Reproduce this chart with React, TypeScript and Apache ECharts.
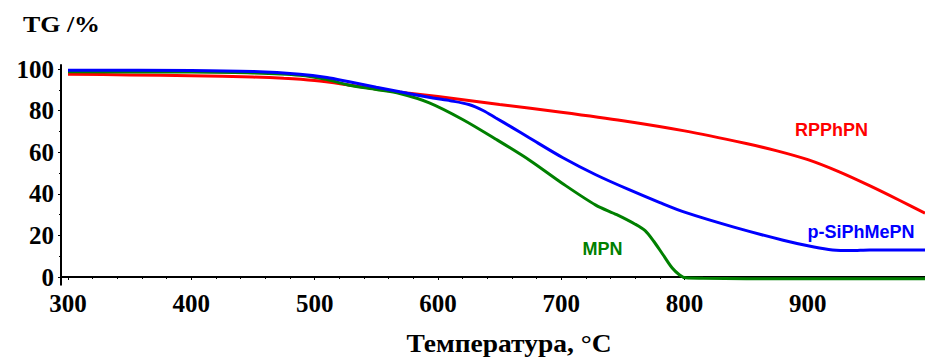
import React, { useEffect, useRef } from "react";
import * as echarts from "echarts";

const redT = [300, 350, 400, 450, 475, 500, 525, 550, 575, 600, 650, 700, 750, 800, 850, 875, 900, 925, 950, 975, 995];
const redV = [97.6, 97.2, 96.8, 96.2, 95.6, 94.5, 92.6, 90.4, 88.5, 86.8, 83.05, 79.3, 75.2, 70.3, 64.2, 60.7, 56.45, 50.7, 43.95, 36.7, 30.7];

const blueT = [300, 400, 450, 488, 510, 528, 550, 569, 596, 610, 625, 637, 647, 660, 674, 701, 728, 755, 780, 800, 840, 880, 905, 920, 935, 950, 995];
const blueV = [99.5, 99.4, 98.9, 97.6, 96, 93.9, 91.3, 89.1, 86.1, 84.8, 83, 80, 76.5, 72, 67, 57.5, 49.2, 42, 35.8, 31.2, 24, 17.7, 14.4, 13, 12.7, 13, 13];

const greenT = [300, 400, 450, 488, 510, 528, 550, 569, 593, 620, 647, 674, 701, 728, 745, 760, 768, 775, 782, 790, 796, 801, 815, 850, 995];
const greenV = [98.7, 98.6, 98.2, 97.1, 95, 92.3, 90.2, 88.3, 83.8, 75.8, 66.3, 56.3, 45, 34.6, 30.0, 25.4, 22.3, 17.2, 11.2, 4.3, 1, -0.4, -0.6, -0.8, -0.8];

const xMajor = [300, 400, 500, 600, 700, 800, 900];
const xMinor = [320, 340, 360, 380, 420, 440, 460, 480, 520, 540, 560, 580, 620, 640, 660, 680, 720, 740, 760, 780, 820, 840, 860, 880, 920, 940, 960, 980];
const yMajor = [0, 20, 40, 60, 80, 100];
const yMinor = [10, 30, 50, 70, 90];

const pairs = (t: number[], v: number[]) => t.map((x, i) => [x, v[i]]);

const serifFont = '"Liberation Serif", "Times New Roman", serif';
const sansFont = '"Liberation Sans", Arial, sans-serif';

export default function App() {
  const ref = useRef<HTMLDivElement>(null);
  useEffect(() => {
    if (!ref.current) return;
    const chart = echarts.init(ref.current, null, { renderer: "svg" });
    const xBase = { type: "value", min: 294.3, max: 995, splitLine: { show: false } };
    const yBase = { type: "value", min: -3.7, max: 102, splitLine: { show: false } };
    const lineSeries = (name: string, data: number[][], color: string) => ({
      name,
      type: "line",
      data,
      smooth: 0.3,
      showSymbol: false,
      lineStyle: { color, width: 3 },
      z: 3,
    });
    const labelStyle = {
      show: true,
      color: "#000",
      fontFamily: serifFont,
      fontWeight: "bold",
      fontSize: 25,
    };
    chart.setOption({
      animation: false,
      grid: { left: 61, right: 0, top: 65, bottom: 76.3, containLabel: false },
      xAxis: [
        {
          ...xBase,
          axisLine: { show: true, lineStyle: { color: "#000", width: 2 } },
          axisTick: { show: true, customValues: xMajor, length: 3, lineStyle: { color: "#000", width: 1 } },
          axisLabel: { ...labelStyle, customValues: xMajor, margin: 6 },
        },
        {
          ...xBase,
          position: "bottom",
          axisLine: { show: false },
          axisTick: { show: true, customValues: xMinor, length: 2, lineStyle: { color: "#000", width: 1 } },
          axisLabel: { show: false },
        },
      ],
      yAxis: [
        {
          ...yBase,
          axisLine: { show: true, lineStyle: { color: "#000", width: 2 } },
          axisTick: { show: true, customValues: yMajor, length: 3, lineStyle: { color: "#000", width: 1 } },
          axisLabel: { ...labelStyle, customValues: yMajor, margin: 7 },
        },
        {
          ...yBase,
          position: "left",
          axisLine: { show: false },
          axisTick: { show: true, customValues: yMinor, length: 2, lineStyle: { color: "#000", width: 1 } },
          axisLabel: { show: false },
        },
      ],
      series: [
        lineSeries("RPPhPN", pairs(redT, redV), "#ff0000"),
        lineSeries("MPN", pairs(greenT, greenV), "#008000"),
        lineSeries("p-SiPhMePN", pairs(blueT, blueV), "#0000ff"),
      ],
      graphic: [
        {
          type: "text",
          x: 23,
          y: 24,
          scaleX: 1.08,
          style: {
            text: "TG /%",
            fill: "#000",
            font: `bold 24px ${serifFont}`,
            textAlign: "left",
            textVerticalAlign: "middle",
          },
        },
        {
          type: "text",
          x: 509,
          y: 344,
          scaleX: 1.1,
          style: {
            text: "Температура, °C",
            fill: "#000",
            font: `bold 25px ${serifFont}`,
            textAlign: "center",
            textVerticalAlign: "middle",
          },
        },
        {
          type: "text",
          x: 831.5,
          y: 130,
          style: {
            text: "RPPhPN",
            fill: "#ff0000",
            font: `bold 18px ${sansFont}`,
            textAlign: "center",
            textVerticalAlign: "middle",
          },
        },
        {
          type: "text",
          x: 861,
          y: 232,
          style: {
            text: "p-SiPhMePN",
            fill: "#0000ff",
            font: `bold 18px ${sansFont}`,
            textAlign: "center",
            textVerticalAlign: "middle",
          },
        },
        {
          type: "text",
          x: 602.5,
          y: 249,
          style: {
            text: "MPN",
            fill: "#008000",
            font: `bold 18px ${sansFont}`,
            textAlign: "center",
            textVerticalAlign: "middle",
          },
        },
      ],
    });
    return () => chart.dispose();
  }, []);
  return (
    <div
      ref={ref}
      style={{ position: "fixed", left: 0, top: 0, width: 925, height: 361, background: "#fff" }}
    />
  );
}
